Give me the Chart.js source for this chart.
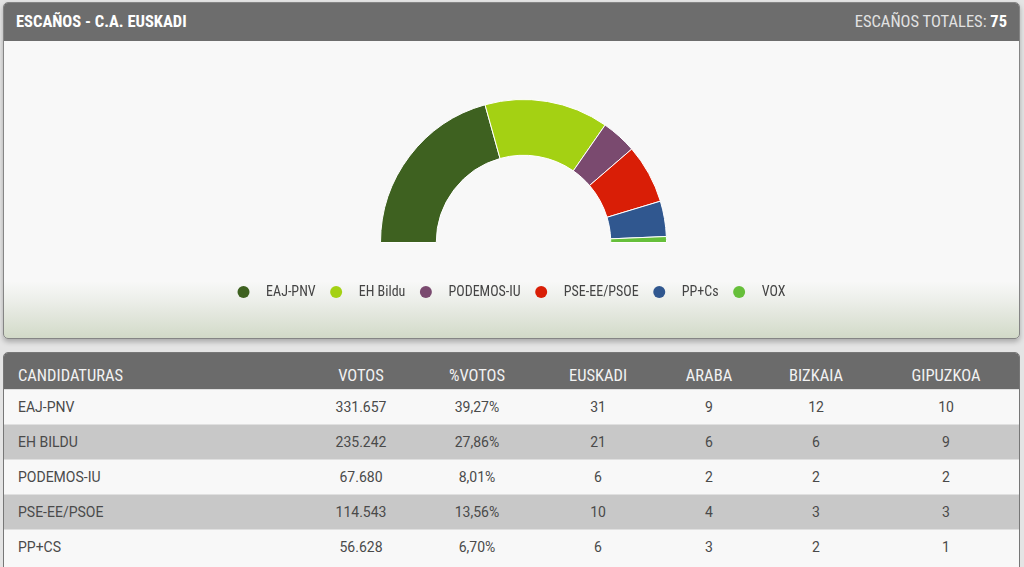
<!DOCTYPE html>
<html>
<head>
<meta charset="utf-8">
<script src="https://cdn.jsdelivr.net/npm/chart.js@4.4.1/dist/chart.umd.min.js"></script>
<style>
    html, body { margin: 0; padding: 0; }
    body {
        width: 1024px; height: 567px; overflow: hidden; position: relative;
        background: #e4e4e4;
        font-family: 'Roboto Condensed', 'Liberation Sans Narrow', 'DejaVu Sans Condensed', Roboto, sans-serif;
    }
    .panel {
        position: absolute; left: 3px; top: 2px; width: 1017px; height: 337px;
        box-sizing: border-box; border: 1px solid #858585; border-radius: 5px; overflow: hidden;
        box-shadow: 0 3px 5px rgba(0,0,0,0.25);
        background: linear-gradient(to bottom, #f8f8f8 0%, #f8f8f8 83%, #eceee9 89%, #d2dac8 100%);
    }
    .panel-head {
        height: 38px; background: #6d6d6d; color: #fff; position: relative;
    }
    .panel-head .title { position: absolute; left: 12px; top: 9px; line-height: 20px; font-size: 16.5px; font-weight: bold; }
    .panel-head .total { position: absolute; right: 12px; top: 9px; line-height: 20px; font-size: 16.5px; color: #e2e2e2; }
    .panel-head .total b { color: #fff; }
    #chart-wrap { position: absolute; left: 4px; top: 41px; width: 1015px; height: 296px; }

    .table-panel {
        position: absolute; left: 3px; top: 352px; width: 1017px; height: 230px;
        box-sizing: border-box; border: 1px solid #777; border-radius: 5px 5px 0 0; overflow: hidden;
        background: #f8f8f8;
    }
    .row { position: absolute; left: 0; width: 100%; height: 35px; }
    .row.head { top: 0; height: 36px; background: #6b6b6b; color: #f2f2f2; font-size: 16.5px; }
    .row.odd { background: #f8f8f8; }
    .row.even { background: #c8c8c8; }
    .cell { position: absolute; top: 0; line-height: 35px; text-align: center; width: 110px; }
    .row.head .cell { top: 13px; line-height: 20px; }
    .cell.name { text-align: left; width: 200px; }
    .row.data { font-family: Roboto, sans-serif; font-size: 14px; color: #4a4a4a; border-top: 1px solid #e0e0e0; box-sizing: border-box; }
</style>
</head>
<body>
    <div class="panel">
        <div class="panel-head">
            <span class="title">ESCAÑOS - C.A. EUSKADI</span>
            <span class="total">ESCAÑOS TOTALES: <b id="total-seats"></b></span>
        </div>
    </div>
    <div id="chart-wrap"><canvas id="seats-chart" width="1015" height="296"></canvas></div>

    <div class="table-panel" id="results-table"></div>

<script>
// Seats per party (half doughnut)
const parties = ['EAJ-PNV', 'EH Bildu', 'PODEMOS-IU', 'PSE-EE/PSOE', 'PP+Cs', 'VOX'];
const seats = [31, 21, 6, 10, 6, 1];
const partyColors = ['#3e6120', '#a4d113', '#7a4a6f', '#d91e06', '#30578f', '#66bf3a'];

// Results table
const tableHeaders = ['CANDIDATURAS', 'VOTOS', '%VOTOS', 'EUSKADI', 'ARABA', 'BIZKAIA', 'GIPUZKOA'];
const tableNames = ['EAJ-PNV', 'EH BILDU', 'PODEMOS-IU', 'PSE-EE/PSOE', 'PP+CS'];
const votes = ['331.657', '235.242', '67.680', '114.543', '56.628'];
const votesPct = ['39,27%', '27,86%', '8,01%', '13,56%', '6,70%'];
const seatsEuskadi = [31, 21, 6, 10, 6];
const seatsAraba = [9, 6, 2, 4, 3];
const seatsBizkaia = [12, 6, 2, 3, 2];
const seatsGipuzkoa = [10, 9, 2, 3, 1];

// column centres of the numeric columns
const colCenters = [361, 477, 598, 709, 816, 946];

document.getElementById('total-seats').textContent = seats.reduce((a, b) => a + b, 0);

// Build table
const tbl = document.getElementById('results-table');
function addRow(values, cls, top) {
    const row = document.createElement('div');
    row.className = 'row ' + cls;
    row.style.top = top + 'px';
    values.forEach((v, i) => {
        const c = document.createElement('div');
        if (i === 0) {
            c.className = 'cell name';
            c.style.left = '14px';
        } else {
            c.className = 'cell';
            c.style.left = (colCenters[i - 1] - 4 - 55) + 'px';
        }
        c.textContent = v;
        row.appendChild(c);
    });
    tbl.appendChild(row);
}
addRow(tableHeaders, 'head', 0);
tableNames.forEach((n, i) => {
    addRow([n, votes[i], votesPct[i], seatsEuskadi[i], seatsAraba[i], seatsBizkaia[i], seatsGipuzkoa[i]],
        'data ' + (i % 2 === 0 ? 'odd' : 'even'), 36 + i * 35);
});

// Chart
const chartFont = "'Roboto Condensed', 'Liberation Sans Narrow', 'DejaVu Sans Condensed', Roboto, sans-serif";
const ctx = document.getElementById('seats-chart').getContext('2d');
new Chart(ctx, {
    type: 'doughnut',
    data: {
        labels: parties,
        datasets: [{
            data: seats,
            backgroundColor: partyColors,
            borderColor: '#ffffff',
            borderWidth: 1
        }]
    },
    options: {
        responsive: false,
        animation: false,
        rotation: -90,
        circumference: 180,
        cutout: '61%',
        radius: 143,
        // left/right padding keeps the arc centre at x=523 while the legend starts at x=237
        layout: { padding: { left: 219, right: 195, top: 30, bottom: 28 } },
        plugins: {
            tooltip: { enabled: false },
            legend: {
                position: 'bottom',
                align: 'start',
                labels: {
                    usePointStyle: true,
                    pointStyle: 'circle',
                    boxWidth: 13,
                    boxHeight: 8.5,
                    padding: 14,
                    color: '#444',
                    font: { family: chartFont, size: 14 },
                    generateLabels: (chart) => {
                        const items = Chart.overrides.doughnut.plugins.legend.labels.generateLabels(chart);
                        items.forEach(it => { it.text = '\u2009  ' + it.text; it.lineWidth = 0; });
                        return items;
                    }
                }
            }
        }
    }
});
</script>
</body>
</html>
